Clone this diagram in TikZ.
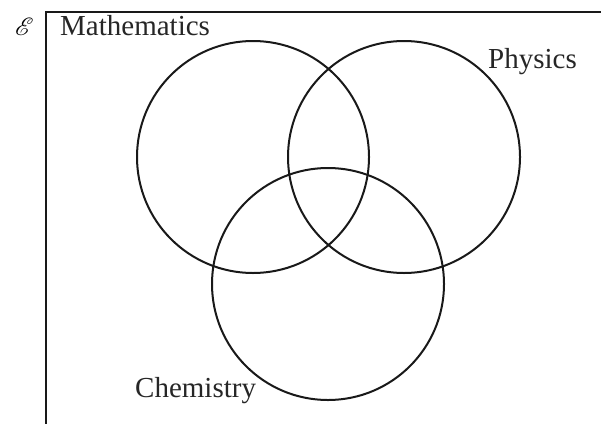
\documentclass[tikz,border=0pt]{standalone}
\usepackage{fontspec}
\setmainfont{Liberation Serif}
\usepackage{mathrsfs}
\tikzset{
  setline/.style={line width=2pt, draw=black!90},
  label/.style={anchor=base west, inner sep=0pt, font=\fontsize{29}{32}\selectfont, text=black!85},
}
\begin{document}
\begin{tikzpicture}[x=1pt,y=-1pt]
\useasboundingbox (0,0) rectangle (601,423);
\coordinate (ubl) at (46,430);
\coordinate (utl) at (46,12);
\coordinate (utr) at (610,12);
\draw[setline] (ubl) -- (utl) -- (utr);
\node[anchor=base west, inner sep=0pt, font=\fontsize{24}{28}\selectfont] (univ) at (15,35) {$\mathscr{E}$};
\node[setline, circle, minimum size=232pt, inner sep=0pt] (math) at (253,157) {};
\node[setline, circle, minimum size=232pt, inner sep=0pt] (phys) at (404,157) {};
\node[setline, circle, minimum size=232pt, inner sep=0pt] (chem) at (328,284) {};
\node[label] (mathl) at (60,35) {Mathematics};
\node[label] (physl) at (488,68) {Physics};
\node[label] (cheml) at (135,397) {Chemistry};
\end{tikzpicture}
\end{document}
